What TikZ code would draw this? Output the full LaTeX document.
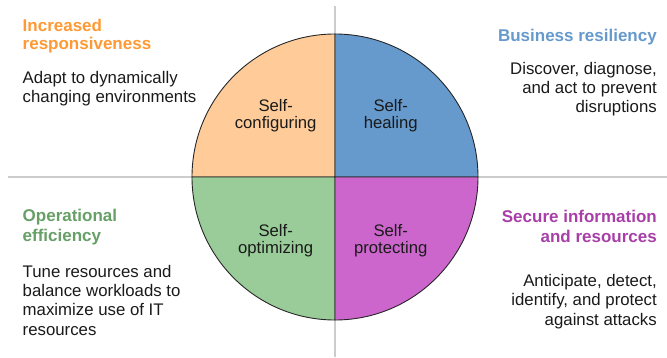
\documentclass[tikz,border=0pt]{standalone}
\usepackage{fontspec}
\setmainfont{Liberation Sans}
\definecolor{peach}{HTML}{FFCC99}
\definecolor{skyfill}{HTML}{6699CC}
\definecolor{sagefill}{HTML}{99CC99}
\definecolor{orchidfill}{HTML}{CC66CC}
\definecolor{orangehead}{HTML}{FF9933}
\definecolor{bluehead}{HTML}{6699CC}
\definecolor{greenhead}{HTML}{66A066}
\definecolor{purplehead}{HTML}{A83FA8}
\definecolor{bodytext}{HTML}{1A1A1A}
\definecolor{axisgray}{HTML}{CCCCCC}
\begin{document}
\begin{tikzpicture}[x=1pt,y=1pt,
  head/.style={inner sep=0pt,font=\fontsize{17}{19.5}\selectfont\bfseries},
  body/.style={inner sep=0pt,text=bodytext,font=\fontsize{16.8}{19.5}\selectfont},
  seg/.style={inner sep=0pt,anchor=base,text=bodytext,font=\fontsize{16.7}{16.5}\selectfont},
  axis/.style={draw=axisgray,line width=2.5pt},
  quarter/.style={draw=black!85,line width=0.9pt,line join=round}]
\useasboundingbox (0,0) rectangle (667,357);

% centre of the wheel and the ends of the two axes
\coordinate (c) at (335,180);
\coordinate (axW) at (8,180);
\coordinate (axE) at (667,180);
\coordinate (axN) at (335,351);
\coordinate (axS) at (335,0);
\draw[axis] (axW) -- (axE);
\draw[axis] (axN) -- (axS);

% four quarters of the wheel
\def\rad{143}
\filldraw[quarter,fill=peach]      (c) -- ++(-\rad,0) arc (180:90:\rad) -- cycle;
\filldraw[quarter,fill=skyfill]    (c) -- ++(0,\rad) arc (90:0:\rad) -- cycle;
\filldraw[quarter,fill=sagefill]   (c) -- ++(-\rad,0) arc (180:270:\rad) -- cycle;
\filldraw[quarter,fill=orchidfill] (c) -- ++(0,-\rad) arc (270:360:\rad) -- cycle;

% labels inside the wheel
\node[seg] (cfgA) at (275.7,245.3) {Self-};
\node[seg] (cfgB) at (275.7,229) {configuring};
\node[seg] (healA) at (390.7,245.3) {Self-};
\node[seg] (healB) at (390.7,229) {healing};
\node[seg] (optA) at (275.7,120.3) {Self-};
\node[seg] (optB) at (275.7,104) {optimizing};
\node[seg] (protA) at (390.7,120.3) {Self-};
\node[seg] (protB) at (390.7,104) {protecting};

% top left: responsiveness
\node[head,text=orangehead,anchor=base west] (respA) at (22.5,325.5) {Increased};
\node[head,text=orangehead,anchor=base west] (respB) at (22.5,307) {responsiveness};
\node[body,anchor=base west] (respC) at (22.5,273.7) {Adapt to dynamically};
\node[body,anchor=base west] (respD) at (22.5,254.5) {changing environments};

% top right: resiliency
\node[head,text=bluehead,anchor=base east] (resA) at (657,316) {Business resiliency};
\node[body,anchor=base east] (resB) at (657,283) {Discover, diagnose,};
\node[body,anchor=base east] (resC) at (657,264) {and act to prevent};
\node[body,anchor=base east] (resD) at (657,245) {disruptions};

% bottom left: efficiency
\node[head,text=greenhead,anchor=base west] (effA) at (22.5,135.3) {Operational};
\node[head,text=greenhead,anchor=base west] (effB) at (22.5,115.3) {efficiency};
\node[body,anchor=base west] (effC) at (22.5,79.7) {Tune resources and};
\node[body,anchor=base west] (effD) at (22.5,60.4) {balance workloads to};
\node[body,anchor=base west] (effE) at (22.5,41.1) {maximize use of IT};
\node[body,anchor=base west] (effF) at (22.5,21.8) {resources};

% bottom right: security
\node[head,text=purplehead,anchor=base east] (secA) at (657,134.7) {Secure information};
\node[head,text=purplehead,anchor=base east] (secB) at (657,114.7) {and resources};
\node[body,anchor=base east] (secC) at (657,70.3) {Anticipate, detect,};
\node[body,anchor=base east] (secD) at (657,51.5) {identify, and protect};
\node[body,anchor=base east] (secE) at (657,32) {against attacks};
\end{tikzpicture}
\end{document}
